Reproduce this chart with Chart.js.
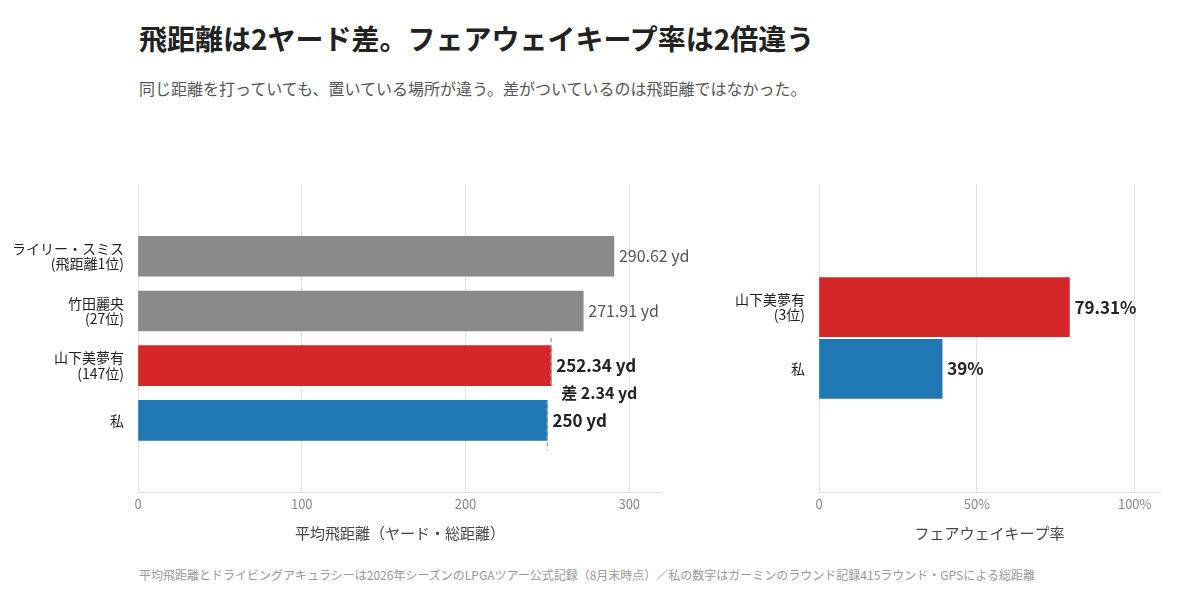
<!DOCTYPE html>
<html><head><meta charset="utf-8">
<script src="https://cdn.jsdelivr.net/npm/chart.js@4/dist/chart.umd.min.js"></script>
<style>
body{margin:0;width:1200px;height:600px;background:#fff;font-family:"Noto Sans CJK JP",sans-serif;position:relative;overflow:hidden}
h1{position:absolute;left:139px;top:18px;margin:0;font-size:28px;font-weight:700;color:#222}
.sub{position:absolute;left:139px;top:76px;font-size:16px;color:#555}
.foot{position:absolute;left:139px;top:566px;font-size:12px;color:#999}
.c{position:absolute;top:170px}
</style></head><body>
<h1>飛距離は2ヤード差。フェアウェイキープ率は2倍違う</h1>
<div class="sub">同じ距離を打っていても、置いている場所が違う。差がついているのは飛距離ではなかった。</div>
<div class="c" style="left:0;width:720px;height:390px"><canvas id="left"></canvas></div>
<div class="c" style="left:690px;width:490px;height:390px"><canvas id="right"></canvas></div>
<div class="foot">平均飛距離とドライビングアキュラシーは2026年シーズンのLPGAツアー公式記録（8月末時点）／私の数字はガーミンのラウンド記録415ラウンド・GPSによる総距離</div>
<script>
const distPlayers = [['ライリー・スミス','(飛距離1位)'], ['竹田麗央','(27位)'], ['山下美夢有','(147位)'], '私'];
const distValues = [290.62, 271.91, 252.34, 250];
const distColors = ['#8a8a8a', '#8a8a8a', '#d62728', '#1f77b4'];
const distTicks = [0, 100, 200, 300];
const fwPlayers = [['山下美夢有','(3位)'], '私'];
const fwValues = [79.31, 39];
const fwColors = ['#d62728', '#1f77b4'];
const fwTicks = [0, 50, 100];

const FONT = '"Noto Sans CJK JP", sans-serif';
Chart.defaults.font.family = FONT;
Chart.defaults.animation = false;

const valueLabels = {
  id: 'valueLabels',
  afterDatasetsDraw(chart, args, opts) {
    const ctx = chart.ctx;
    const meta = chart.getDatasetMeta(0);
    ctx.save();
    ctx.textBaseline = 'middle';
    meta.data.forEach((bar, i) => {
      const bold = opts.bold[i];
      ctx.font = (bold ? 'bold 17px ' : '16px ') + FONT;
      ctx.fillStyle = bold ? '#222' : '#555';
      ctx.fillText(opts.fmt(opts.values[i]), bar.x + 5, bar.y);
    });
    if (opts.gap) {
      const x = chart.scales.x;
      const m = meta.data;
      const xa = x.getPixelForValue(distValues[2]);
      const xb = x.getPixelForValue(distValues[3]);
      ctx.strokeStyle = '#aaa';
      ctx.lineWidth = 1.5;
      ctx.setLineDash([4, 3]);
      ctx.beginPath();
      ctx.moveTo(xa, m[2].y - 28); ctx.lineTo(xa, m[2].y + 20);
      ctx.moveTo(xb, m[3].y - 20); ctx.lineTo(xb, m[3].y + 30);
      ctx.stroke();
      ctx.setLineDash([]);
      ctx.font = 'bold 16px ' + FONT;
      ctx.fillStyle = '#222';
      ctx.fillText('差 ' + (distValues[2] - distValues[3]).toFixed(2) + ' yd', xa + 10, (m[2].y + m[3].y) / 2);
    }
    ctx.restore();
  }
};

function makeChart(id, labels, values, colors, max, ticks, tickFmt, title, yWidth, padRight, yMin, yMax, thick, fmt, bold, gap) {
  return new Chart(document.getElementById(id), {
    type: 'bar',
    data: { datasets: [{ data: values.map((v, i) => ({ x: v, y: i })), backgroundColor: colors, barThickness: thick }] },
    options: {
      indexAxis: 'y',
      responsive: true,
      maintainAspectRatio: false,
      layout: { padding: { top: 10, right: padRight, bottom: 14 } },
      plugins: { legend: { display: false }, tooltip: { enabled: false }, valueLabels: { fmt: fmt, bold: bold, gap: gap, values: values } },
      scales: {
        x: {
          type: 'linear', min: 0, max: max,
          grid: { color: '#e3e3e3', drawTicks: false },
          border: { color: '#ddd' },
          afterBuildTicks(s) { s.ticks = ticks.map(v => ({ value: v })); },
          ticks: { autoSkip: false, color: '#888', font: { size: 13 }, padding: 4, callback: tickFmt },
          title: { display: true, text: title, color: '#444', font: { size: 15 }, padding: { top: 8 } }
        },
        y: {
          type: 'linear', min: yMin, max: yMax, reverse: true,
          grid: { display: false },
          border: { display: false },
          afterBuildTicks(s) { s.ticks = labels.map((l, i) => ({ value: i })); },
          ticks: { autoSkip: false, color: '#222', font: { size: 14, lineHeight: 1.1 }, padding: 6, callback: v => labels[v] },
          afterFit(s) { s.width = yWidth; }
        }
      }
    },
    plugins: [valueLabels]
  });
}

makeChart('left', distPlayers, distValues, distColors, 320, distTicks, v => v,
  '平均飛距離（ヤード・総距離）', 138, 58, -0.62, 3.61, 40, v => v + ' yd', [false, false, true, true], true);
makeChart('right', fwPlayers, fwValues, fwColors, 108, fwTicks, v => v === 0 ? '0' : v + '%',
  'フェアウェイキープ率', 129, 20, -0.75, 1.75, 59, v => v + '%', [true, true], false);
</script>
</body></html>
